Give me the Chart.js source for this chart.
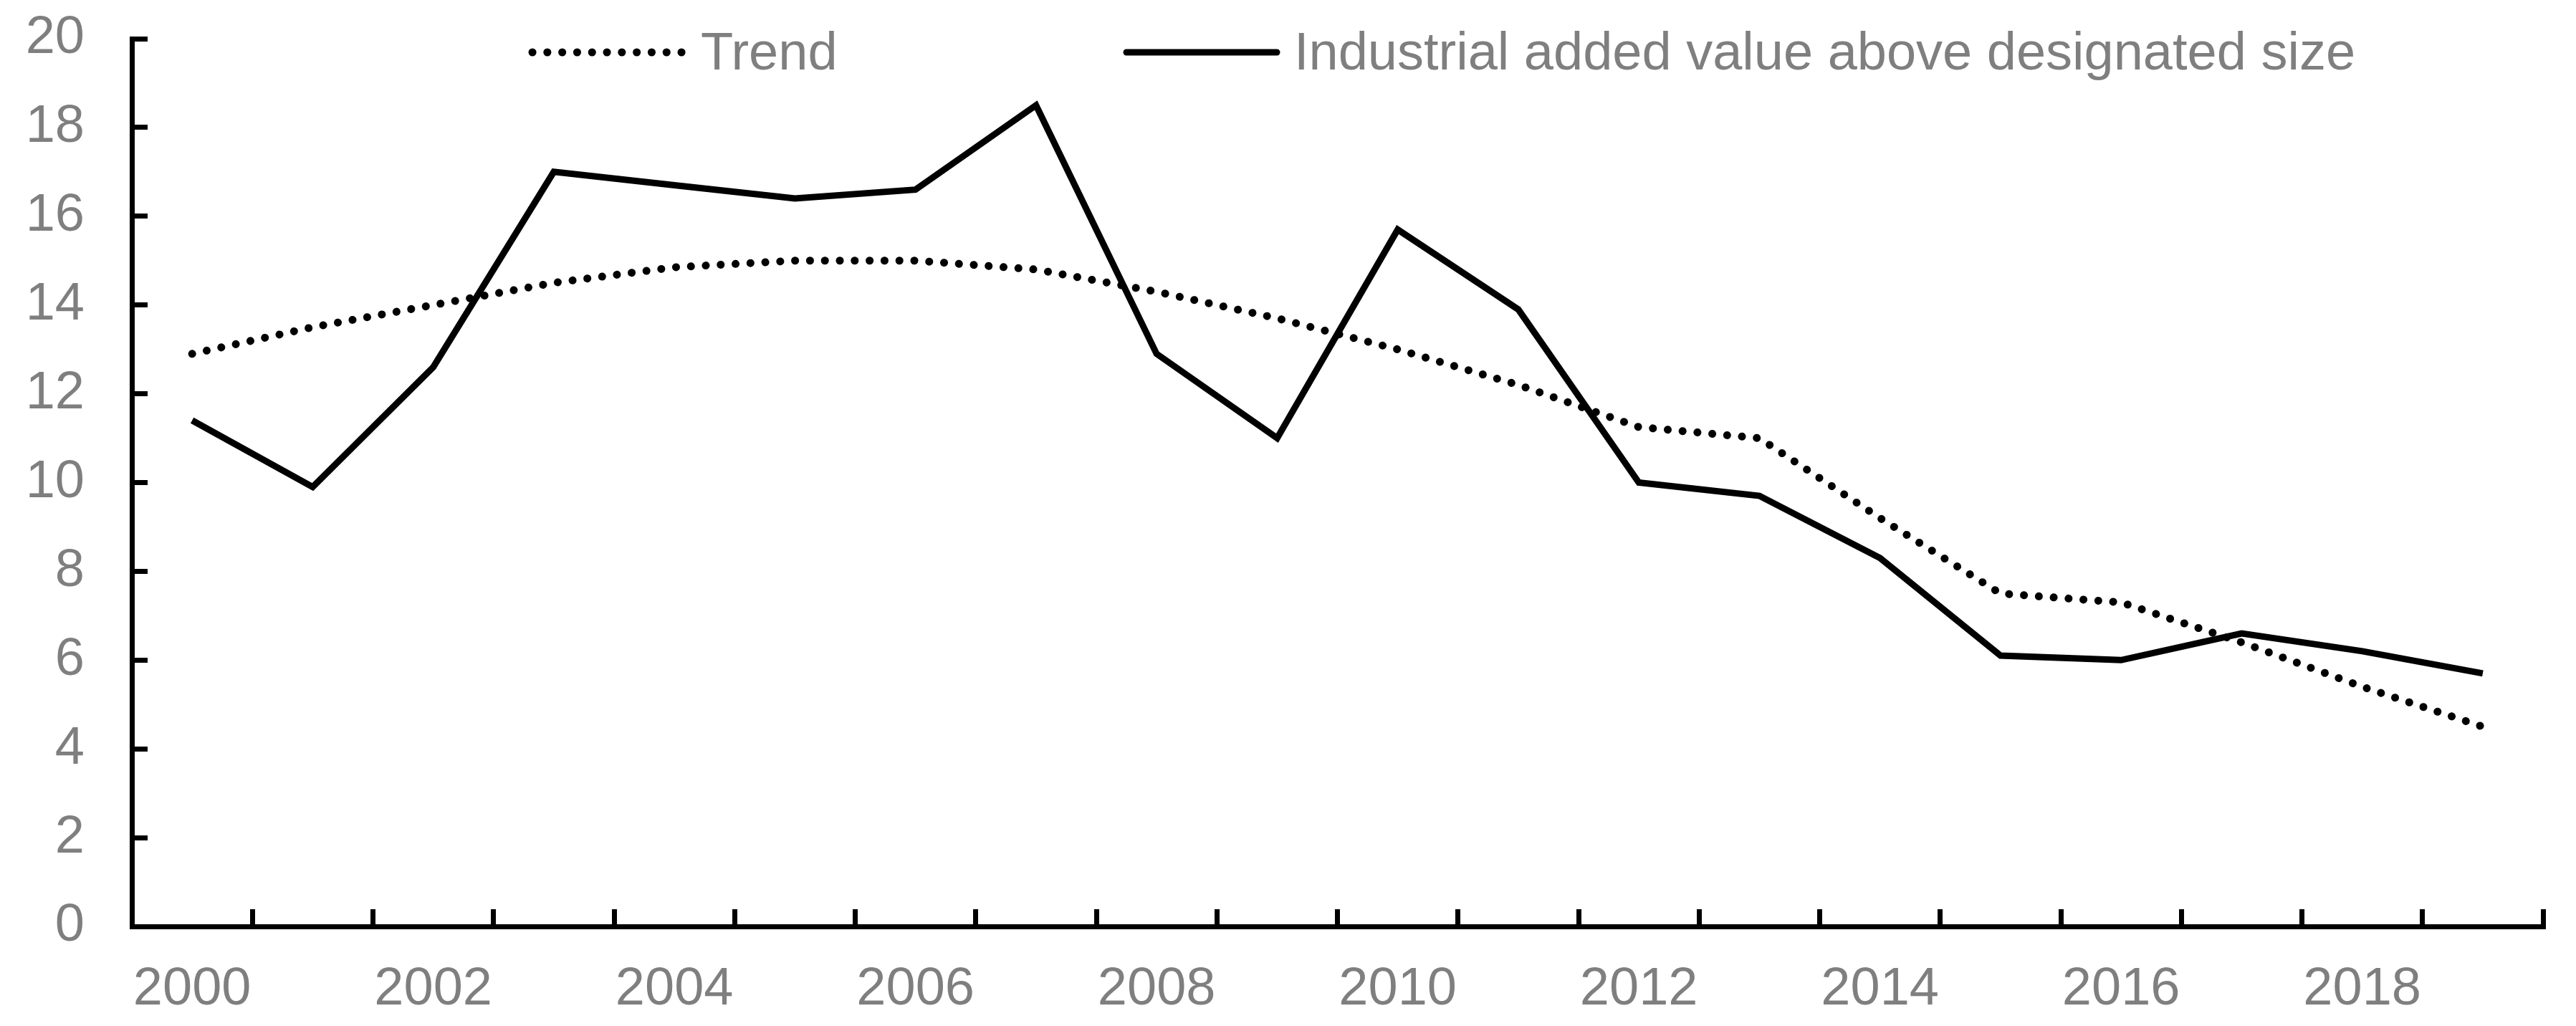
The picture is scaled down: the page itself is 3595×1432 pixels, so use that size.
<!DOCTYPE html>
<html>
<head>
<meta charset="utf-8">
<script src="https://cdn.jsdelivr.net/npm/chart.js@4/dist/chart.umd.min.js"></script>
<style>
  html, body { margin: 0; padding: 0; background: #fff; }
  #chart { display: block; }
</style>
</head>
<body>
<canvas id="chart" width="3595" height="1432"></canvas>
<script>
  // years on the x axis
  const years = [2000, 2001, 2002, 2003, 2004, 2005, 2006, 2007, 2008, 2009,
                 2010, 2011, 2012, 2013, 2014, 2015, 2016, 2017, 2018, 2019];

  // dotted trend line
  const trend = [12.9, 13.5, 14.0, 14.5, 14.85, 15.0, 15.0, 14.8, 14.3, 13.7,
                 13.0, 12.2, 11.25, 11.0, 9.2, 7.5, 7.3, 6.4, 5.4, 4.5];

  // solid line
  const industrial = [11.4, 9.9, 12.6, 17.0, 16.7, 16.4, 16.6, 18.5, 12.9, 11.0,
                      15.7, 13.9, 10.0, 9.7, 8.3, 6.1, 6.0, 6.6, 6.2, 5.7];

  const seriesNames = ['Trend', 'Industrial added value above designated size'];
  const yTicks = [0, 2, 4, 6, 8, 10, 12, 14, 16, 18, 20];

  const grey = '#7f7f7f';
  const fontFamily = '"Liberation Sans", Arial, sans-serif';
  const fontSize = 74;

  // legend sits inside the plot, like the original
  const legendSpots = [{ x1: 743, x2: 953, tx: 978 }, { x1: 1572, x2: 1782, tx: 1806 }];
  const legendLineY = 73;
  const legendTextY = 97;

  const insideLegend = {
    id: 'insideLegend',
    afterDraw(chart) {
      const ctx = chart.ctx;
      ctx.save();
      chart.data.datasets.forEach(function (ds, i) {
        const spot = legendSpots[i];
        ctx.beginPath();
        ctx.strokeStyle = ds.borderColor;
        ctx.lineWidth = ds.borderWidth;
        ctx.lineCap = 'round';
        ctx.setLineDash(ds.borderDash || []);
        ctx.moveTo(spot.x1, legendLineY);
        ctx.lineTo(spot.x2, legendLineY);
        ctx.stroke();
        ctx.setLineDash([]);
        ctx.fillStyle = grey;
        ctx.font = fontSize + 'px ' + fontFamily;
        ctx.textBaseline = 'alphabetic';
        ctx.textAlign = 'left';
        ctx.fillText(ds.label, spot.tx, legendTextY);
      });
      ctx.restore();
    }
  };

  const data = {
    labels: years,
    datasets: [{
      label: seriesNames[0],
      data: trend,
      borderColor: '#000',
      borderWidth: 11,
      borderDash: [0.1, 20.7],
      borderCapStyle: 'round',
      pointRadius: 0,
      tension: 0
    }, {
      label: seriesNames[1],
      data: industrial,
      borderColor: '#000',
      borderWidth: 9,
      borderJoinStyle: 'miter',
      pointRadius: 0,
      tension: 0
    }]
  };

  const config = {
    type: 'line',
    data: data,
    plugins: [insideLegend],
    options: {
      responsive: false,
      devicePixelRatio: 1,
      animation: false,
      layout: { padding: { top: 54, right: 46, left: 0, bottom: 0 } },
      plugins: {
        legend: { display: false },
        tooltip: { enabled: false }
      },
      scales: {
        x: {
          type: 'category',
          offset: true,
          grid: {
            offset: true,
            drawOnChartArea: false,
            drawTicks: true,
            tickLength: -24,
            lineWidth: 7,
            color: '#000'
          },
          border: { color: '#000', width: 7 },
          ticks: {
            autoSkip: false,
            maxRotation: 0,
            color: grey,
            font: { family: fontFamily, size: fontSize },
            padding: 68,
            callback: function (val, i) {
              return i % 2 === 0 ? String(years[i]) : '';
            }
          },
          afterFit: function (scale) { scale.height = 139; }
        },
        y: {
          min: 0,
          max: 20,
          afterBuildTicks: function (scale) {
            scale.ticks = yTicks.map(function (v) { return { value: v }; });
          },
          grid: {
            drawOnChartArea: false,
            drawTicks: true,
            tickLength: -22,
            lineWidth: 7,
            color: '#000'
          },
          border: { color: '#000', width: 7 },
          ticks: {
            color: grey,
            font: { family: fontFamily, size: fontSize },
            padding: 88
          },
          afterFit: function (scale) {
            scale.width = 184;
            // big label padding must not push the plot down
            scale.paddingTop = 0;
            scale.paddingBottom = 0;
          }
        }
      }
    }
  };

  const myChart = new Chart(document.getElementById('chart'), config);
</script>
</body>
</html>
